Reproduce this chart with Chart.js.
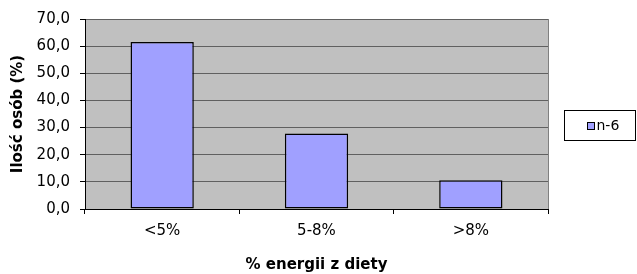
<!DOCTYPE html>
<html>
<head>
<meta charset="utf-8">
<script src="https://cdn.jsdelivr.net/npm/chart.js@4/dist/chart.umd.min.js"></script>
<style>
  html, body { margin: 0; padding: 0; background: #fff; }
  #wrap { width: 637px; height: 274px; }
</style>
</head>
<body>
<div id="wrap"><canvas id="chart" width="637" height="274"></canvas></div>
<script>
// Data
const categories = ["<5%", "5-8%", ">8%"];
const seriesName = "n-6";
const seriesValues = [61.5, 27.8, 10.6];
const yTicks = [0, 10, 20, 30, 40, 50, 60, 70];

const FONT = "'DejaVu Sans', sans-serif";

// Gray plot background and right border
const plotBackground = {
    id: "plotBackground",
    beforeDraw(chart) {
        const { ctx, chartArea: a } = chart;
        ctx.save();
        ctx.fillStyle = "#c0c0c0";
        ctx.fillRect(a.left, a.top, a.right - a.left, a.bottom - a.top);
        ctx.strokeStyle = "#808080";
        ctx.lineWidth = 1;
        ctx.beginPath();
        ctx.moveTo(a.right + 0.5, a.top);
        ctx.lineTo(a.right + 0.5, a.bottom);
        ctx.stroke();
        ctx.restore();
    }
};

// Boxed legend on the right
const boxLegend = {
    id: "boxLegend",
    afterDraw(chart) {
        const ctx = chart.ctx;
        const ds = chart.data.datasets[0];
        const x = 564.5, y = 110.5, w = 71, h = 30;
        ctx.save();
        ctx.fillStyle = "#fff";
        ctx.strokeStyle = "#000";
        ctx.lineWidth = 1;
        ctx.fillRect(x, y, w, h);
        ctx.strokeRect(x, y, w, h);
        ctx.fillStyle = ds.backgroundColor;
        ctx.fillRect(x + 23, y + 12, 7, 7);
        ctx.strokeRect(x + 23, y + 12, 7, 7);
        ctx.fillStyle = "#000";
        ctx.font = "14px " + FONT;
        ctx.textBaseline = "middle";
        ctx.fillText(ds.label, x + 32, y + 16);
        ctx.restore();
    }
};

const ctx = document.getElementById("chart").getContext("2d");
new Chart(ctx, {
    type: "bar",
    data: {
        labels: categories,
        datasets: [{
            label: seriesName,
            data: seriesValues,
            backgroundColor: "#a0a0ff",
            borderColor: "#000",
            borderWidth: 1.5,
            borderSkipped: false,
            barPercentage: 0.82,
            categoryPercentage: 0.5
        }]
    },
    options: {
        responsive: false,
        animation: false,
        layout: { padding: { left: 0, top: 19, right: 89, bottom: 0 } },
        plugins: {
            legend: { display: false },
            tooltip: { enabled: false }
        },
        scales: {
            x: {
                offset: true,
                afterFit(scale) { scale.height = 65; },
                grid: {
                    offset: true,
                    drawOnChartArea: false,
                    drawTicks: true,
                    tickLength: 5,
                    color: "#000"
                },
                border: { color: "#000", width: 1 },
                ticks: {
                    color: "#000",
                    font: { family: FONT, size: 15 },
                    padding: 8
                },
                title: {
                    display: true,
                    text: "% energii z diety",
                    color: "#000",
                    font: { family: FONT, size: 15, weight: "bold" },
                    padding: { top: 11, bottom: 0 }
                }
            },
            y: {
                min: 0,
                max: 70,
                afterFit(scale) { scale.width = 85; },
                afterBuildTicks(scale) {
                    scale.ticks = yTicks.map(v => ({ value: v }));
                },
                grid: {
                    color: "#606060",
                    lineWidth: 1,
                    drawTicks: true,
                    tickLength: 5,
                    tickColor: "#000"
                },
                border: { color: "#000", width: 1 },
                ticks: {
                    color: "#000",
                    font: { family: FONT, size: 15 },
                    padding: 10,
                    callback: v => v.toFixed(1).replace(".", ",")
                },
                title: {
                    display: true,
                    text: "Ilość osób (%)",
                    color: "#000",
                    font: { family: FONT, size: 15, weight: "bold" },
                    padding: { top: 9, bottom: 0 }
                }
            }
        }
    },
    plugins: [plotBackground, boxLegend]
});
</script>
</body>
</html>
